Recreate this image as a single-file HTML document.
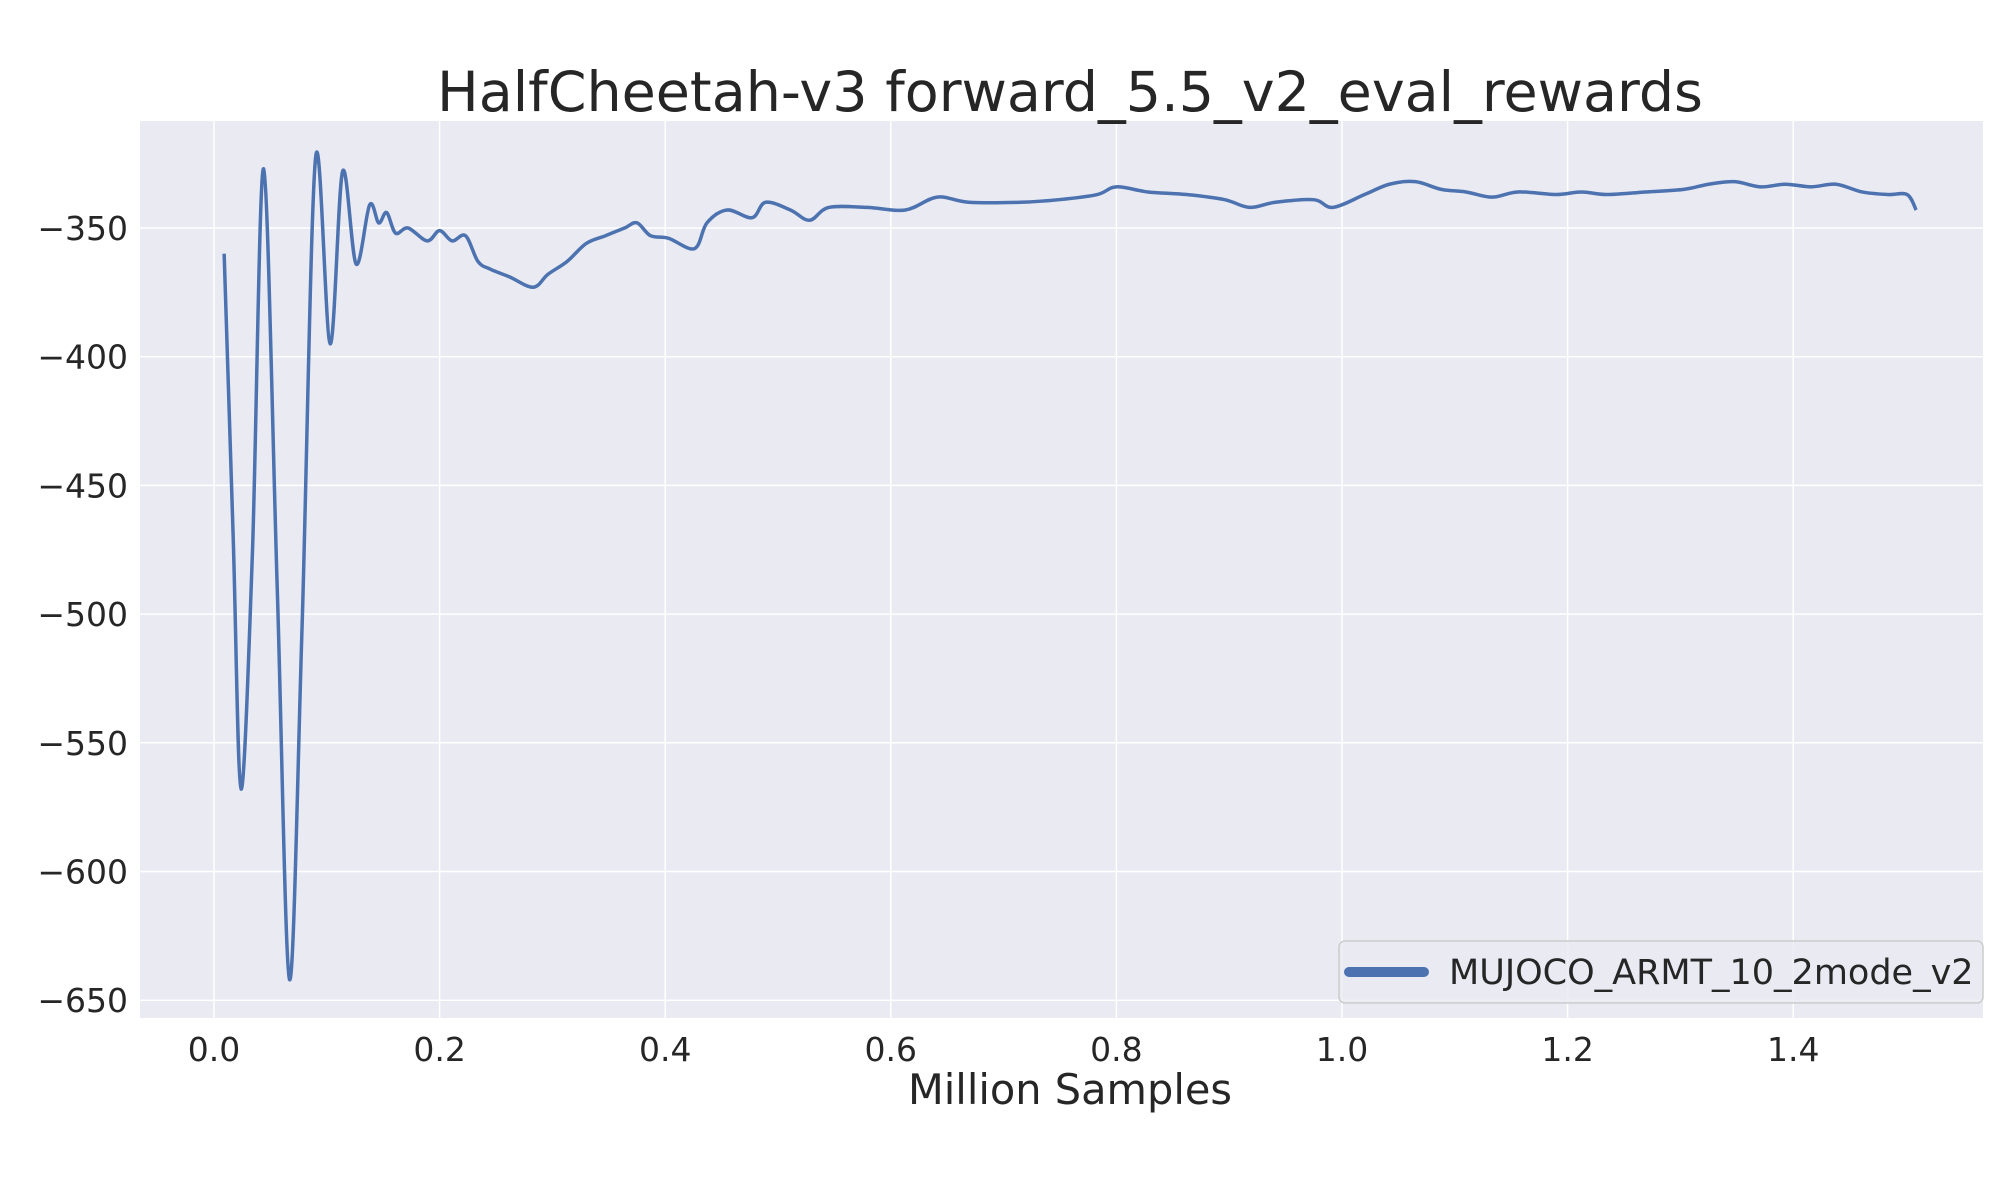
<!DOCTYPE html>
<html><head><meta charset="utf-8"><style>
body{margin:0;background:#fff;}
svg{display:block;font-family:"DejaVu Sans","Liberation Sans",sans-serif;}
</style></head><body>
<svg id="chart" width="2000" height="1200" viewBox="0 0 2000 1200">
<rect x="140" y="121" width="1843" height="897" fill="#eaeaf2"/>
<g id="grid"></g><g id="ticks"></g>
<text x="1070" y="111" text-anchor="middle" font-size="55.5" fill="#262626">HalfCheetah-v3 forward_5.5_v2_eval_rewards</text>
<text x="1070" y="1104" text-anchor="middle" font-size="41.5" fill="#262626">Million Samples</text>
<path id="series" fill="none" stroke="#4c72b0" stroke-width="3.5" stroke-linejoin="round"/>
<g>
<rect x="1339" y="941" width="644" height="62" rx="6" fill="#eaeaf2" fill-opacity="0.8" stroke="#cccccc" stroke-width="1.5"/>
<line x1="1349" y1="972" x2="1424" y2="972" stroke="#4c72b0" stroke-width="10" stroke-linecap="round"/>
<text x="1449" y="984" font-size="35" fill="#262626">MUJOCO_ARMT_10_2mode_v2</text>
</g>
</svg>
<script>
const xTicks=[0.0,0.2,0.4,0.6,0.8,1.0,1.2,1.4];
const yTicks=[-650,-600,-550,-500,-450,-400,-350];
const xs=[0.009,0.017,0.024,0.034,0.044,0.056,0.067,0.078,0.090,0.103,0.114,0.126,0.138,0.146,0.153,0.161,0.172,0.189,0.200,0.211,0.223,0.234,0.245,0.262,0.283,0.296,0.313,0.330,0.347,0.364,0.375,0.387,0.403,0.426,0.437,0.455,0.477,0.489,0.511,0.528,0.545,0.579,0.613,0.641,0.669,0.715,0.749,0.783,0.800,0.828,0.862,0.896,0.918,0.941,0.975,0.992,1.020,1.042,1.065,1.088,1.110,1.133,1.156,1.190,1.212,1.235,1.269,1.303,1.325,1.348,1.371,1.393,1.416,1.438,1.461,1.484,1.501,1.509];
const ys=[-360,-470,-568,-477,-327,-489,-642,-506,-323,-395,-328,-364,-341,-348,-344,-352,-350,-355,-351,-355,-353,-363,-366,-369,-373,-368,-363,-356,-353,-350,-348,-353,-354,-358,-348,-343,-346,-340,-343,-347,-342,-342,-343,-338,-340,-340,-339,-337,-334,-336,-337,-339,-342,-340,-339,-342,-337,-333,-332,-335,-336,-338,-336,-337,-336,-337,-336,-335,-333,-332,-334,-333,-334,-333,-336,-337,-337,-343];
function X(v){return 214+v*1128;}
function Y(v){return 228+(-350-v)/50*128.7;}
const NS='http://www.w3.org/2000/svg';
const grid=document.getElementById('grid'),ticks=document.getElementById('ticks');
xTicks.forEach(t=>{
 const l=document.createElementNS(NS,'line');
 l.setAttribute('x1',X(t));l.setAttribute('x2',X(t));l.setAttribute('y1',121);l.setAttribute('y2',1018);
 l.setAttribute('stroke','#fff');l.setAttribute('stroke-width','1.5');
 
 
 grid.appendChild(l);
 const tx=document.createElementNS(NS,'text');
 tx.setAttribute('x',X(t));tx.setAttribute('y',1061);tx.setAttribute('text-anchor','middle');
 tx.setAttribute('font-size','33');tx.setAttribute('fill','#262626');
 tx.textContent=t.toFixed(1);
 
 
 ticks.appendChild(tx);
});
yTicks.forEach(t=>{
 const l=document.createElementNS(NS,'line');
 l.setAttribute('x1',140);l.setAttribute('x2',1983);l.setAttribute('y1',Y(t));l.setAttribute('y2',Y(t));
 l.setAttribute('stroke','#fff');l.setAttribute('stroke-width','1.5');
 
 
 grid.appendChild(l);
 const tx=document.createElementNS(NS,'text');
 tx.setAttribute('x',128);tx.setAttribute('y',Y(t)+12);tx.setAttribute('text-anchor','end');
 tx.setAttribute('font-size','33');tx.setAttribute('fill','#262626');
 tx.textContent='\u2212'+Math.abs(t);
 
 
 ticks.appendChild(tx);
});
const P=xs.map((x,i)=>[X(x),Y(ys[i])]);
let d='M'+P[0][0]+','+P[0][1];
for(let i=0;i<P.length-1;i++){
 const p0=P[Math.max(0,i-1)],p1=P[i],p2=P[i+1],p3=P[Math.min(P.length-1,i+2)];
 const c1=[p1[0]+(p2[0]-p0[0])/6,p1[1]+(p2[1]-p0[1])/6];
 const c2=[p2[0]-(p3[0]-p1[0])/6,p2[1]-(p3[1]-p1[1])/6];
 d+=' C'+c1[0]+','+c1[1]+' '+c2[0]+','+c2[1]+' '+p2[0]+','+p2[1];
}
document.getElementById('series').setAttribute('d',d);
</script>
</body></html>
